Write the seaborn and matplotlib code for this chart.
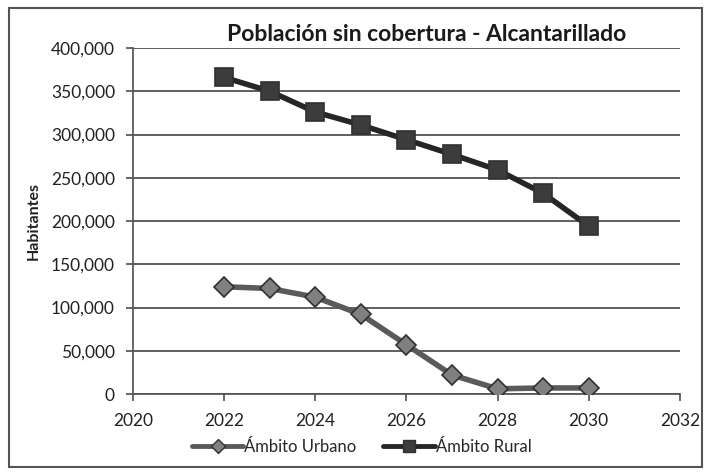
import matplotlib
matplotlib.use("Agg")
import matplotlib.pyplot as plt
import matplotlib.patches as mpatches
import seaborn as sns
import pandas as pd
from matplotlib.ticker import FuncFormatter, MultipleLocator

years = [2022, 2023, 2024, 2025, 2026, 2027, 2028, 2029, 2030]
urbano = [124000, 122000, 112000, 92000, 57000, 22000, 6000, 7000, 7000]
rural = [366000, 350000, 326000, 311000, 294000, 277000, 259000, 232000, 194000]
series_names = ["Ámbito Urbano", "Ámbito Rural"]
title = "Población sin cobertura - Alcantarillado"
ylabel = "Habitantes"

df = pd.DataFrame({
    "year": years * 2,
    "value": urbano + rural,
    "serie": [series_names[0]] * len(years) + [series_names[1]] * len(years),
})

sns.set_theme(style="white")
plt.rcParams["font.family"] = ["Lato", "DejaVu Sans"]

fig = plt.figure(figsize=(7.09, 4.73), dpi=100)
ax = fig.add_axes([0.1876, 0.167, 0.959 - 0.1876, 0.8985 - 0.167])

palette = {series_names[0]: "#5a5a5a", series_names[1]: "#262626"}
markers = {series_names[0]: "D", series_names[1]: "s"}
sns.lineplot(data=df, x="year", y="value", hue="serie", style="serie",
             palette=palette, markers=markers, dashes=False, ax=ax,
             linewidth=4, markersize=11, legend=False, zorder=3)
for line, fc, ms in zip(ax.lines, ["#808080", "#3c3c3c"], [10.5, 13]):
    line.set_markerfacecolor(fc)
    line.set_markeredgecolor("#303030")
    line.set_markeredgewidth(1.2)
    line.set_markersize(ms)

ax.set_xlim(2020, 2032)
ax.set_ylim(0, 400000)
ax.xaxis.set_major_locator(MultipleLocator(2))
ax.yaxis.set_major_locator(MultipleLocator(50000))
ax.yaxis.set_major_formatter(FuncFormatter(lambda v, p: f"{int(v):,}"))
ax.grid(axis="y", color="#444444", linewidth=1.2)
ax.grid(axis="x", visible=False)
ax.set_axisbelow(True)
for s in ["top", "right"]:
    ax.spines[s].set_visible(False)
ax.spines["left"].set_color("#555555")
ax.spines["bottom"].set_color("#555555")
ax.tick_params(axis="both", which="major", direction="out", length=5,
               color="#555555", labelsize=12.5, labelcolor="#222222",
               bottom=True, left=True)
ax.tick_params(axis="y", pad=8)
ax.tick_params(axis="x", pad=9)
ax.set_xlabel("")
ax.set_ylabel(ylabel, fontsize=11.5, fontweight="bold", color="#222222")
ax.yaxis.set_label_coords(-0.168, 0.5)
ax.set_title(title, fontsize=16.5, fontweight="bold", color="#1a1a1a", pad=5, x=0.537)

handles = [
    plt.Line2D([], [], color="#5a5a5a", linewidth=3.5, marker="D", markersize=7,
               markerfacecolor="#808080", markeredgecolor="#303030"),
    plt.Line2D([], [], color="#262626", linewidth=3.5, marker="s", markersize=8,
               markerfacecolor="#3c3c3c", markeredgecolor="#303030"),
]
fig.legend(handles, series_names, loc="center", bbox_to_anchor=(0.51, 0.055),
           ncol=2, frameon=False, fontsize=12, handlelength=3.1,
           handletextpad=0.05, columnspacing=1.6)

fig.patches.append(mpatches.Rectangle((0.012, 0.012), 0.978, 0.972,
                                      transform=fig.transFigure, fill=False,
                                      edgecolor="#555555", linewidth=1.5))

fig.savefig("out.png", dpi=100)
